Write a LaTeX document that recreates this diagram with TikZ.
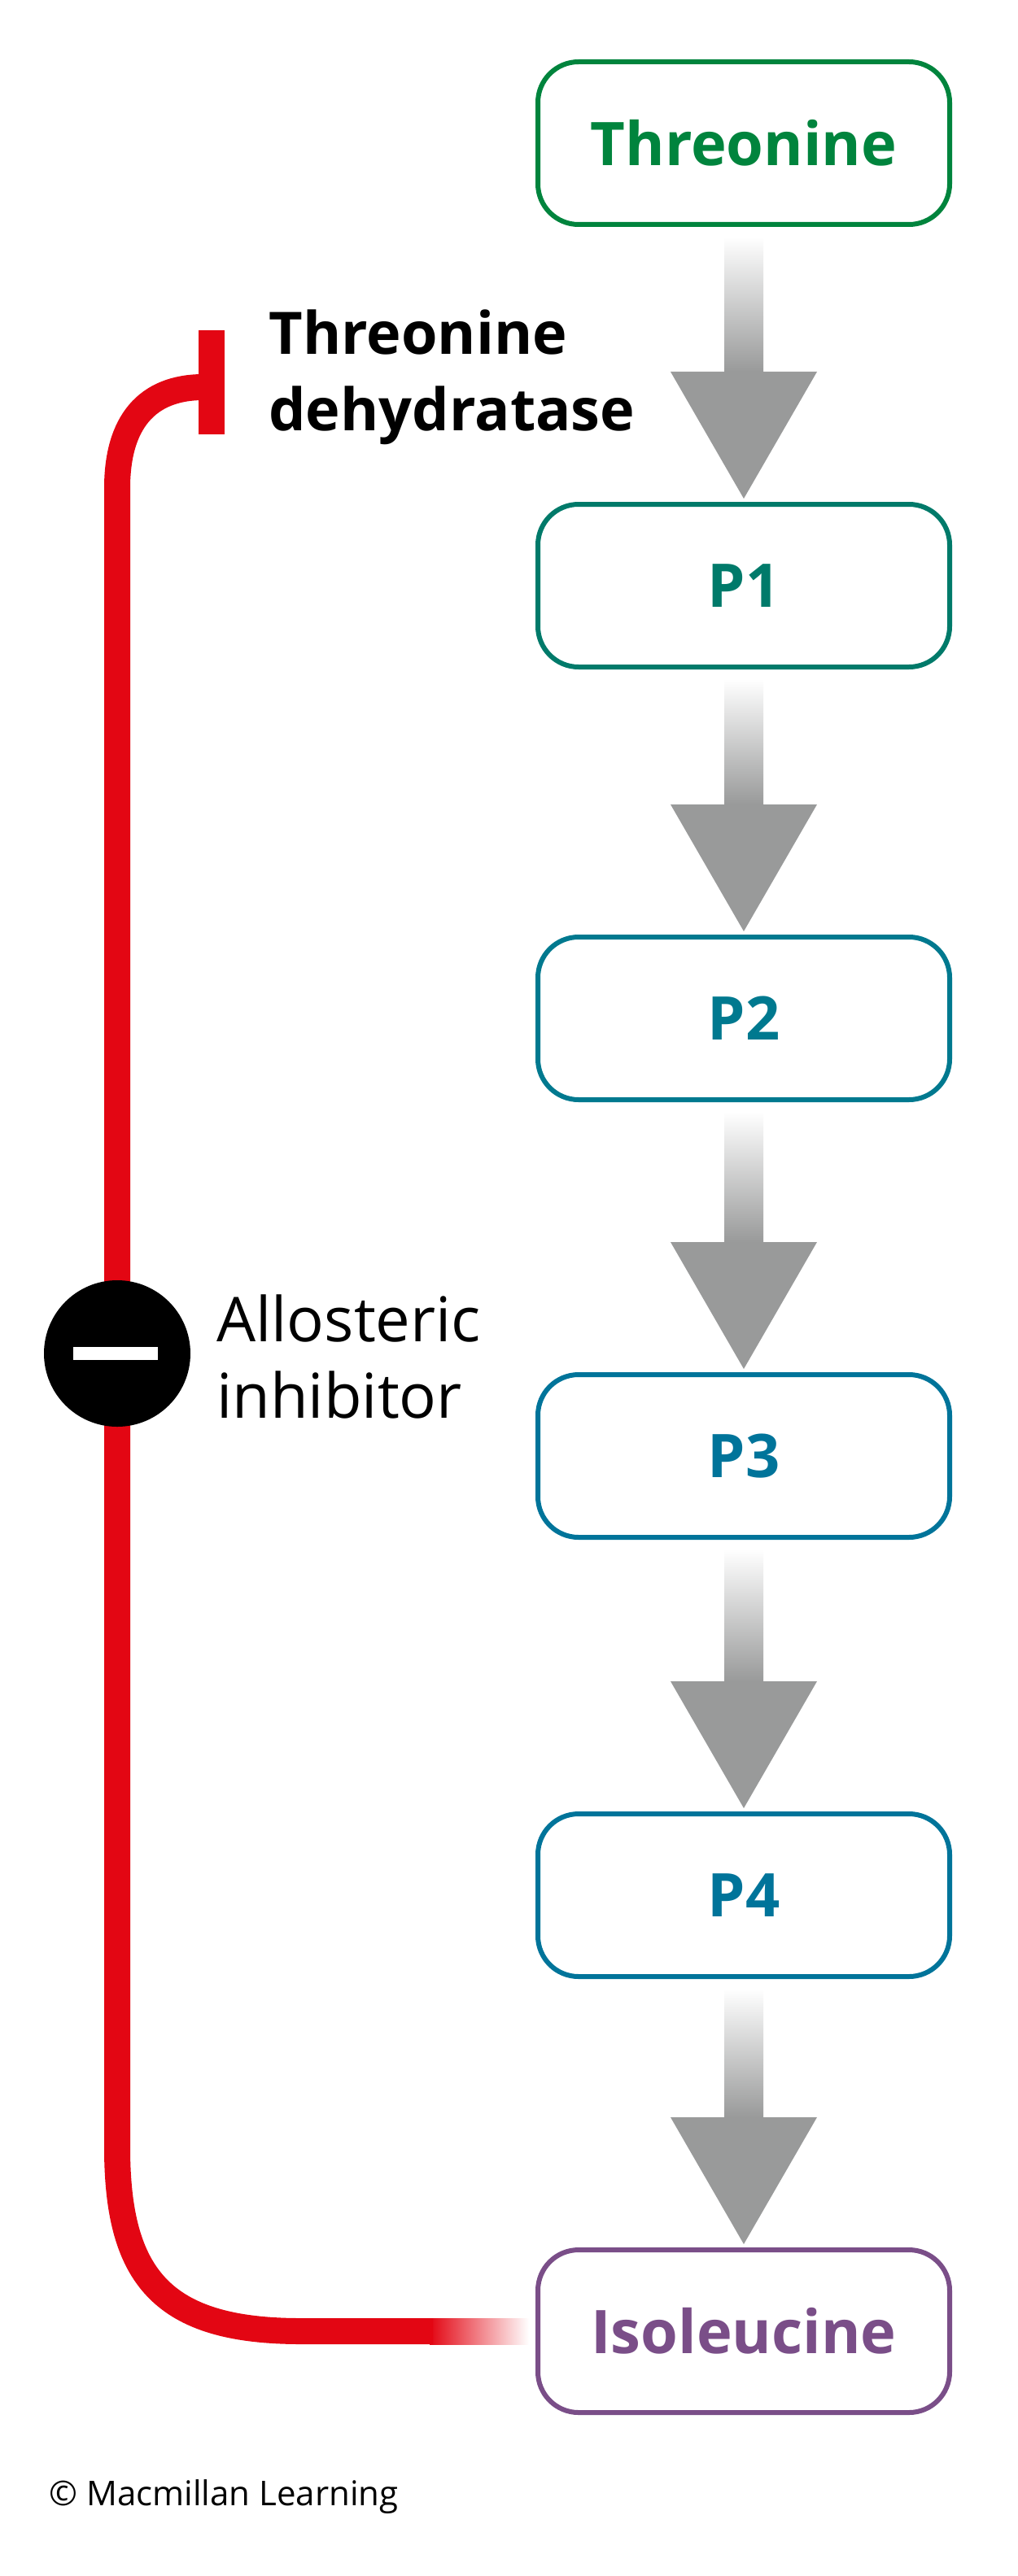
\documentclass[tikz,border=0pt]{standalone}
\usepackage{fontspec}
\setmainfont{Open Sans}
\definecolor{cthr}{HTML}{00843D}
\definecolor{cp1}{HTML}{007A6A}
\definecolor{cp2}{HTML}{00798F}
\definecolor{cp3}{HTML}{00749A}
\definecolor{ciso}{HTML}{7A4E88}
\definecolor{cred}{HTML}{E30613}
\definecolor{cgray}{HTML}{999A9A}
\tikzset{
  boxn/.style={draw=#1, text=#1, line width=3pt, rounded corners=25pt, minimum width=253pt, minimum height=100pt, font=\fontsize{37}{40}\selectfont\bfseries, inner sep=0pt},
  lbl/.style={anchor=west, align=left, font=\fontsize{38}{47}\selectfont, inner sep=0pt}
}
\begin{document}
\begin{tikzpicture}[x=1pt,y=-1pt]
\useasboundingbox (0,0) rectangle (625,1583.5);
\node[boxn=cthr] (b0) at (457,88) {Threonine};
\node[boxn=cp1] (b1) at (457,360) {P1};
\node[boxn=cp2] (b2) at (457,626) {P2};
\node[boxn=cp3] (b3) at (457,895) {P3};
\node[boxn=cp3] (b4) at (457,1165) {P4};
\node[boxn=ciso] (b5) at (457,1433) {Isoleucine};
\foreach \a/\b in {b0/b1,b1/b2,b2/b3,b3/b4,b4/b5}{
  \path (\a.south) ++(0,6) coordinate (s);
  \path (\b.north) ++(0,-2) coordinate (t);
  \shade[top color=white, bottom color=cgray] ([xshift=-12pt]s) rectangle ([xshift=12pt,yshift=78pt]t);
  \fill[cgray] ([xshift=-45pt,yshift=78pt]t) -- ([xshift=45pt,yshift=78pt]t) -- (t) -- cycle;
}
\coordinate (fe) at (266,1433);
\shade[left color=cred, right color=white] (264,1425) rectangle (325,1441);
\draw[cred, line width=16pt] (fe) -- (185,1433) .. controls (100,1433) and (72,1400) .. (72,1320) -- (72,300) .. controls (72,260) and (90,238) .. (125,238);
\fill[cred] (122,203) rectangle (138,267);
\node[circle, fill=black, minimum size=90pt, inner sep=0pt] (c) at (72,832) {};
\fill[white] (45,828) rectangle (97,836);
\node[lbl, font=\fontsize{36}{47}\selectfont\bfseries] (enz) at (165,232) {Threonine\\dehydratase};
\node[lbl] (inh) at (133,834) {Allosteric\\inhibitor};
\node[anchor=west, inner sep=0pt, font=\fontsize{21}{24}\selectfont] (cr) at (30,1535) {© Macmillan Learning};
\end{tikzpicture}
\end{document}
